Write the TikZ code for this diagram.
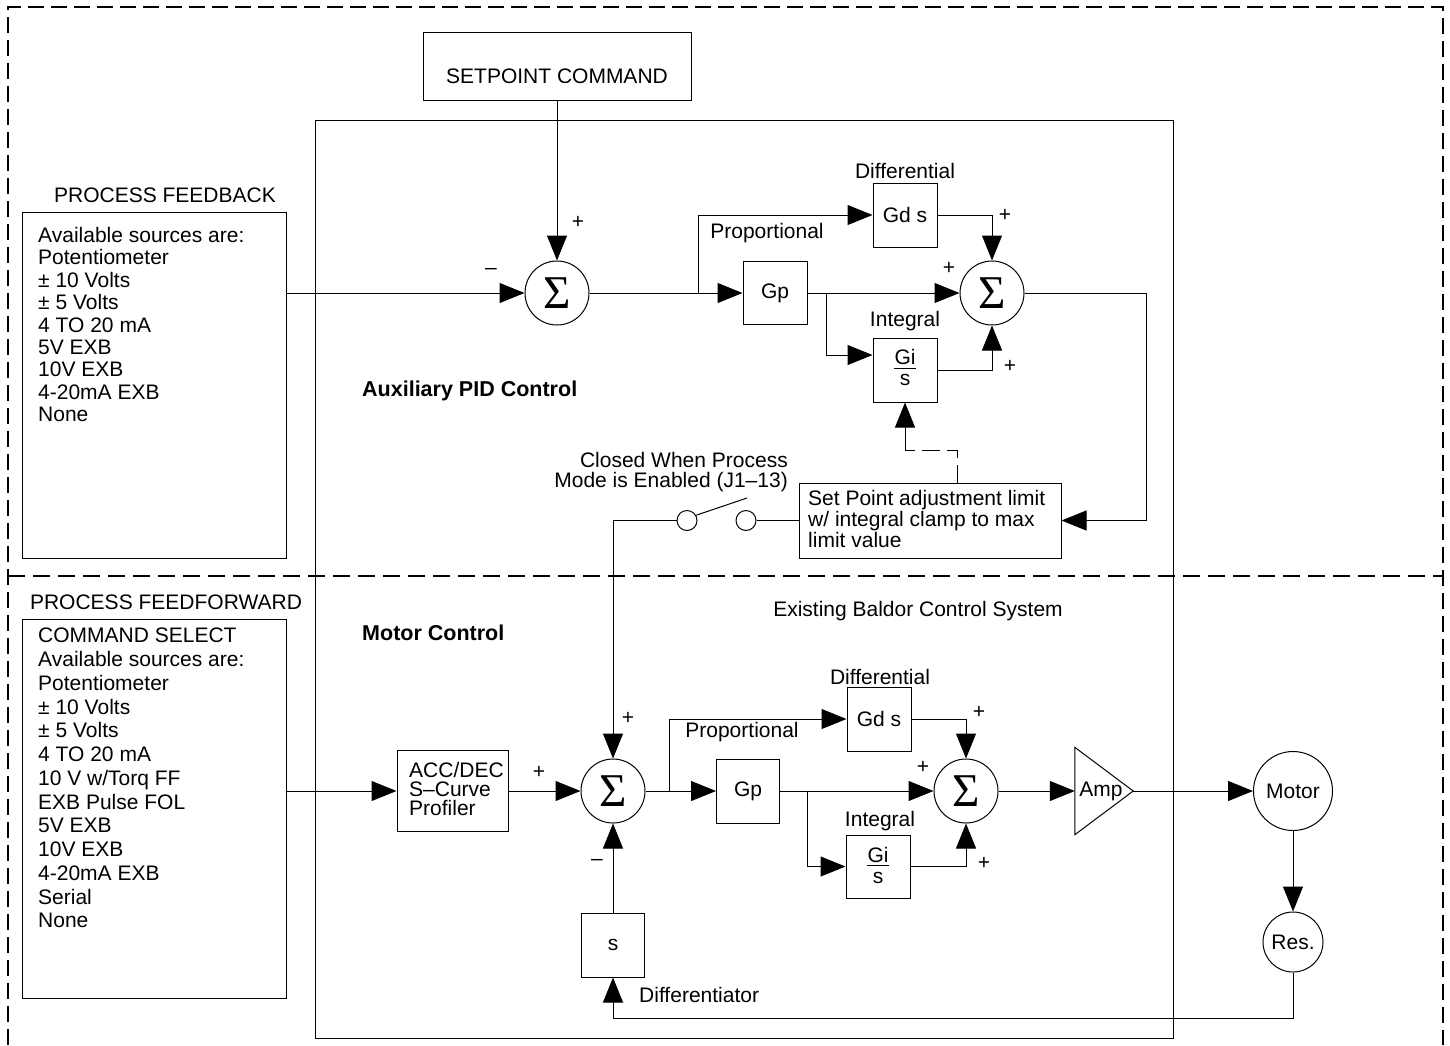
\documentclass[tikz,border=0pt]{standalone}
\usepackage{fontspec}
\setmainfont{Liberation Sans}
\newfontfamily\sigfont{Liberation Serif}
\usetikzlibrary{arrows.meta,calc}
\begin{document}
\begin{tikzpicture}[x=1pt,y=-1pt,
  every node/.style={font=\fontsize{21}{22}\selectfont, inner sep=0pt},
  ln/.style={line width=1pt},
  blk/.style={draw, line width=1pt, inner sep=0pt},
  ring/.style={circle, draw, line width=1pt, inner sep=0pt},
  sumc/.style={circle, draw, line width=1pt, minimum size=64pt, font=\sigfont\fontsize{47}{47}\selectfont},
  arr/.style={line width=1pt, -{Triangle[length=25pt,width=20pt]}},
  bdash/.style={line width=2.6pt, dash pattern=on 16pt off 7pt},
  mdash/.style={line width=1.8pt, dash pattern=on 17pt off 8pt},
  ddash/.style={line width=1pt, dash pattern=on 18pt off 7pt},
  frule/.style={line width=0.9pt},
  bold/.style={font=\bfseries\fontsize{21.5}{24}\selectfont}
]
\useasboundingbox (0,0) rectangle (1450,1045);
\fill[white] (0,0) rectangle (1450,1045);

% frames
\draw[bdash] (8,1045) -- (8,7) -- (1443,7) -- (1443,1045);
\draw[mdash] (8,576) -- (1443,576);
\node[blk, anchor=north west, minimum width=858, minimum height=918] (sys) at (315,120) {};

% setpoint
\node[blk, minimum width=268, minimum height=68] (sp) at (557,66) {};
\node (spt) at (557,76) {SETPOINT COMMAND};

% process feedback
\node (fbt) at (165,195) {PROCESS FEEDBACK};
\node[blk, anchor=north west, minimum width=264, minimum height=346] (fb) at (22,212) {};
\node[anchor=north west, align=left, font=\fontsize{21}{22.4}\selectfont] (fbl) at (38,227) {Available sources are:\\Potentiometer\\± 10 Volts\\± 5 Volts\\4 TO 20 mA\\5V EXB\\10V EXB\\4-20mA EXB\\None};

% upper PID
\node[sumc] (s1) at (557,293) {Σ};
\draw[arr] (sp.south) -- (s1.north);
\draw[arr] (fb.east |- s1.west) -- (s1.west);
\node (pa) at (578,222) {+};
\node (ma) at (491,271) {–};

\node[blk, minimum width=64, minimum height=63] (gp1) at (775,293) {Gp};
\node[blk, minimum width=64, minimum height=64] (gd1) at (905,215) {Gd s};
\node[blk, minimum width=64, minimum height=64] (gi1) at (905,370) {};
\node (gi1n) at (905,357) {Gi};
\node (gi1d) at (905,380) {s};
\draw[frule] (894,368) -- (916,368);
\node[sumc] (s2) at (992,293) {Σ};
\coordinate (b1) at (698,293);
\coordinate (b2) at (826,293);
\draw[arr] (s1.east) -- (gp1.west);
\draw[arr] (b1) |- (gd1.west);
\draw[arr] (gp1.east) -- (s2.west);
\draw[arr] (gd1.east) -| (s2.north);
\draw[arr] (b2) |- ([yshift=15pt]gi1.west);
\draw[arr] (gi1.east) -| (s2.south);
\node (dif1) at (905,171) {Differential};
\node (pro1) at (767,233) {Proportional};
\node (int1) at (905,321) {Integral};
\node (pb) at (1005,215) {+};
\node (pc) at (949,268) {+};
\node (pd) at (1010,366) {+};

% limit block and switch
\node[blk, minimum width=262, minimum height=75] (lim) at (930,520.5) {};
\node[anchor=north west, align=left, font=\fontsize{21}{21}\selectfont] (limt) at (808,490.5) {Set Point adjustment limit\\w/ integral clamp to max\\limit value};
\coordinate (c1) at (1146,520.5);
\draw[arr] (s2.east) -| (c1) -- (lim.east);
\node[ring, minimum size=20pt] (sw1) at (687,520.5) {};
\node[ring, minimum size=20pt] (sw2) at (746,520.5) {};
\coordinate (lev) at (747,498);
\draw[ln] (sw1.30) -- (lev);
\draw[ln] (sw2.east) -- (lim.west);
\node[anchor=north east, align=right, font=\fontsize{21}{20}\selectfont] (cwt) at (788,452) {Closed When Process\\Mode is Enabled (J1–13)};
\coordinate (d1) at (957,450);
\draw[ddash] (lim.north -| d1) -- (d1) -- (gi1.south |- d1);
\draw[arr] (gi1.south |- d1) -- (gi1.south);

% section titles
\node[bold, anchor=west] (aux) at (362,391) {Auxiliary PID Control};
\node (ebc) at (918,611) {Existing Baldor Control System};
\node[bold, anchor=west] (mc) at (362,633) {Motor Control};

% process feedforward
\node (fft) at (166,602) {PROCESS FEEDFORWARD};
\node[blk, anchor=north west, minimum width=264, minimum height=379] (ff) at (22,619) {};
\node[anchor=north west, align=left, font=\fontsize{21}{23.75}\selectfont] (ffl) at (38,628) {COMMAND SELECT\\Available sources are:\\Potentiometer\\± 10 Volts\\± 5 Volts\\4 TO 20 mA\\10 V w/Torq FF\\EXB Pulse FOL\\5V EXB\\10V EXB\\4-20mA EXB\\Serial\\None};

% lower loop
\node[blk, minimum width=111, minimum height=81] (prof) at (452.5,791) {};
\node[anchor=north west, align=left, font=\fontsize{21}{19}\selectfont] (proft) at (409,762) {ACC/DEC\\S–Curve\\Profiler};
\draw[arr] (ff.east |- prof.west) -- (prof.west);
\node[sumc] (s3) at (613,791) {Σ};
\draw[arr] (prof.east) -- (s3.west);
\draw[arr] (sw1.west) -| (s3.north);
\node (pe) at (628,718) {+};
\node (pf) at (539,772) {+};
\node (mb) at (597,862) {–};

\node[blk, minimum width=63, minimum height=64] (gp2) at (748,791) {Gp};
\node[blk, minimum width=64, minimum height=64] (gd2) at (879,719) {Gd s};
\node[blk, minimum width=64, minimum height=63] (gi2) at (878,866.5) {};
\node (gi2n) at (878,854.5) {Gi};
\node (gi2d) at (878,877.5) {s};
\draw[frule] (867,865.5) -- (889,865.5);
\node[sumc] (s4) at (966,791) {Σ};
\coordinate (b3) at (669,791);
\coordinate (b4) at (807,791);
\draw[arr] (s3.east) -- (gp2.west);
\draw[arr] (b3) |- (gd2.west);
\draw[arr] (gp2.east) -- (s4.west);
\draw[arr] (gd2.east) -| (s4.north);
\draw[arr] (b4) |- (gi2.west);
\draw[arr] (gi2.east) -| (s4.south);
\node (dif2) at (880,677) {Differential};
\node (pro2) at (742,732) {Proportional};
\node (int2) at (880,821) {Integral};
\node (pg) at (979,712) {+};
\node (ph) at (923,767) {+};
\node (pi) at (984,863) {+};

% amp, motor, resolver
\node[minimum width=58, minimum height=87] (amp) at (1104,791) {};
\draw[ln] (amp.north west) -- (amp.east) -- (amp.south west) -- cycle;
\node (ampt) at (1101,791) {Amp};
\draw[arr] (s4.east) -- (amp.west);
\node[ring, minimum size=79pt] (mot) at (1293,791) {Motor};
\node[ring, minimum size=60pt] (res) at (1293,942) {Res.};
\draw[arr] (amp.east) -- (mot.west);
\draw[arr] (mot.south) -- (res.north);

% differentiator feedback
\node[blk, minimum width=63, minimum height=64] (sb) at (613,945) {s};
\draw[arr] (sb.north) -- (s3.south);
\coordinate (fbk) at (0,1018);
\draw[arr] (res.south) |- (sb.south |- fbk) -- (sb.south);
\node[anchor=west] (dift) at (639,995) {Differentiator};
\end{tikzpicture}
\end{document}
